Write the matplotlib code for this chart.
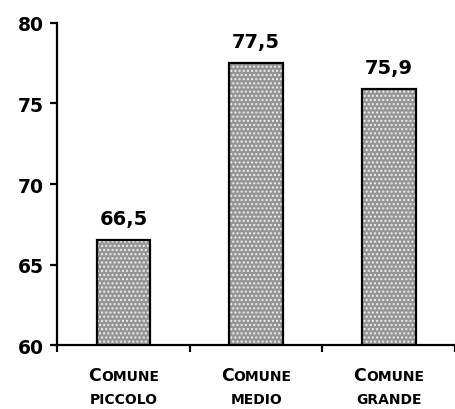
import matplotlib.pyplot as plt
from matplotlib.offsetbox import TextArea, HPacker, VPacker, AnnotationBbox

# Data
categories = ['piccolo', 'medio', 'grande']
values = [66.5, 77.5, 75.9]
value_labels = ['66,5', '77,5', '75,9']

font = 'DejaVu Sans'

fig = plt.figure(figsize=(4.56, 4.10), dpi=100)
ax = fig.add_axes([0.1257, 0.156, 0.8723, 0.7855])

x = range(len(categories))

# Patterned fill (light dots on gray), then the black outline on top
ax.bar(x, values, width=0.405, color='#959595', edgecolor='#f0f0f0',
       hatch='....', linewidth=0, zorder=2)
ax.bar(x, values, width=0.405, fill=False, edgecolor='black',
       linewidth=1.6, zorder=3)

for xi, v, lab in zip(x, values, value_labels):
    ax.annotate(lab, (xi, v), xytext=(0, 9), textcoords='offset points',
                ha='center', va='bottom', fontsize=14, fontweight='heavy',
                family=font)

ax.set_ylim(60, 80)
ax.set_yticks([60, 65, 70, 75, 80])
ax.set_xlim(-0.5, 2.5)
ax.set_xticks([-0.5, 0.5, 1.5, 2.5])
ax.set_xticklabels([])

for s in ['top', 'right']:
    ax.spines[s].set_visible(False)
for s in ['left', 'bottom']:
    ax.spines[s].set_linewidth(1.6)

ax.tick_params(axis='y', direction='out', length=5, width=1.6, pad=5,
               labelsize=13.5)
ax.tick_params(axis='x', direction='out', length=5, width=1.6)
for t in ax.get_yticklabels():
    t.set_fontweight('heavy')
    t.set_family(font)

# Small-caps style category labels
for xi, cat in zip(x, categories):
    big = TextArea('C', textprops=dict(fontsize=12.5, fontweight='heavy', family=font))
    rest = TextArea('OMUNE', textprops=dict(fontsize=10, fontweight='heavy', family=font))
    line1 = HPacker(children=[big, rest], align='baseline', pad=0, sep=0)
    line2 = TextArea(cat.upper(), textprops=dict(fontsize=10, fontweight='heavy', family=font))
    box = VPacker(children=[line1, line2], align='center', pad=0, sep=6)
    ab = AnnotationBbox(box, (xi, 0), xycoords=('data', 'axes fraction'),
                        xybox=(0, -15), boxcoords='offset points',
                        box_alignment=(0.5, 1), frameon=False)
    ax.add_artist(ab)

fig.savefig('out.png', dpi=100)
